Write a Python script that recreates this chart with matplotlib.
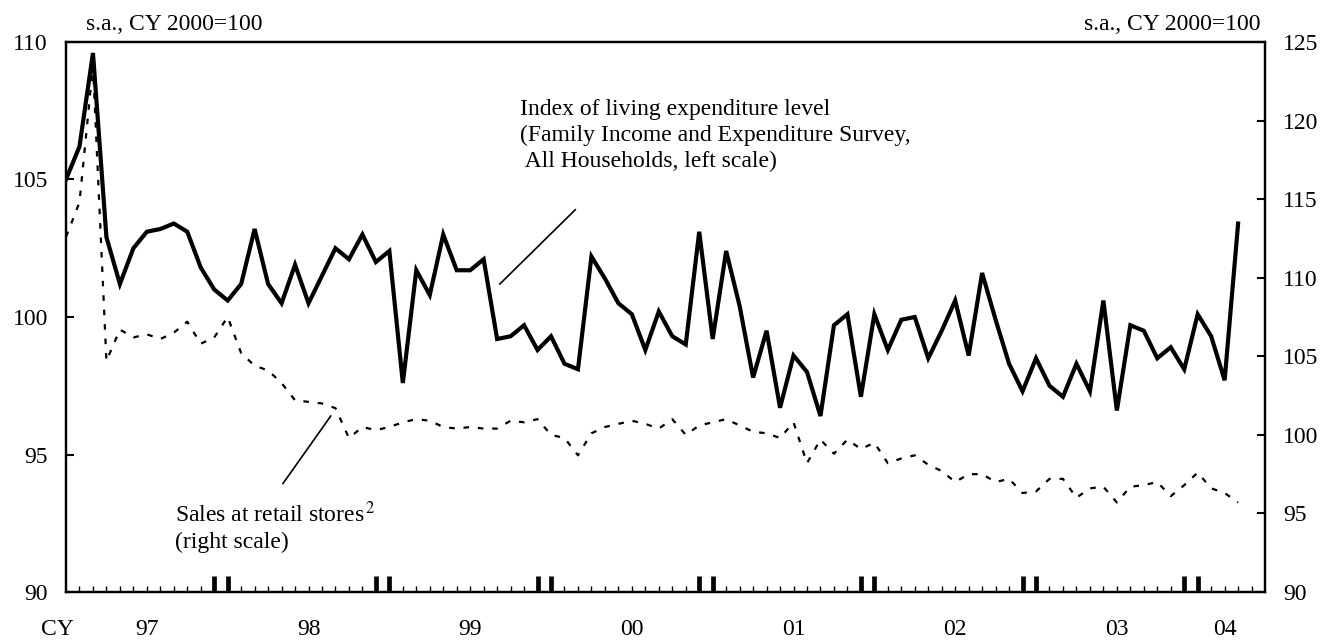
import numpy as np
import matplotlib.pyplot as plt
from matplotlib.transforms import blended_transform_factory

plt.rcParams['font.family'] = ['Liberation Serif', 'DejaVu Serif']
plt.rcParams['mathtext.fontset'] = 'stix'

# Index of living expenditure level (left scale), monthly Jan 1997 - Apr 2004
living = [105.0, 106.2, 109.6, 102.9, 101.2, 102.5, 103.1, 103.2, 103.4, 103.1, 101.8, 101.0,
          100.6, 101.2, 103.2, 101.2, 100.5, 101.9, 100.5, 101.5, 102.5, 102.1, 103.0, 102.0,
          102.4, 97.6, 101.7, 100.8, 103.0, 101.7, 101.7, 102.1, 99.2, 99.3, 99.7, 98.8,
          99.3, 98.3, 98.1, 102.2, 101.4, 100.5, 100.1, 98.8, 100.2, 99.3, 99.0, 103.1,
          99.2, 102.4, 100.4, 97.8, 99.5, 96.7, 98.6, 98.0, 96.4, 99.7, 100.1, 97.1,
          100.1, 98.8, 99.9, 100.0, 98.5, 99.5, 100.6, 98.6, 101.6, 99.9, 98.3, 97.3,
          98.5, 97.5, 97.1, 98.3, 97.3, 100.6, 96.6, 99.7, 99.5, 98.5, 98.9, 98.1,
          100.1, 99.3, 97.7, 103.4]

# Sales at retail stores (right scale)
retail = [112.6, 114.8, 123.5, 104.7, 106.7, 106.2, 106.4, 106.1, 106.5, 107.2, 105.8, 106.2,
          107.5, 105.2, 104.4, 104.1, 103.3, 102.2, 102.1, 102.0, 101.7, 99.8, 100.5, 100.3,
          100.5, 100.8, 101.0, 100.9, 100.5, 100.4, 100.5, 100.4, 100.4, 100.9, 100.8, 101.0,
          100.0, 99.8, 98.7, 100.1, 100.5, 100.7, 100.9, 100.7, 100.4, 101.0, 100.0, 100.6,
          100.8, 101.0, 100.6, 100.2, 100.1, 99.8, 100.8, 98.2, 99.7, 98.8, 99.7, 99.1,
          99.5, 98.2, 98.5, 98.7, 98.1, 97.7, 97.0, 97.5, 97.5, 97.0, 97.2, 96.3,
          96.4, 97.2, 97.2, 96.0, 96.6, 96.7, 95.7, 96.7, 96.8, 97.0, 96.1, 96.8,
          97.6, 96.6, 96.3, 95.7]

years = ['97', '98', '99', '00', '01', '02', '03', '04']
year_pos = [6, 18, 30, 42, 54, 66, 78, 86]

months = np.arange(len(living))

fig = plt.figure(figsize=(13.23, 6.41), dpi=100)
ax = fig.add_axes([0.0499, 0.0764, 0.9063, 0.8581])
ax2 = ax.twinx()
ax.set_zorder(ax2.get_zorder() + 1)
ax.patch.set_visible(False)

ax.plot(months, living, color='black', lw=3.0, solid_joinstyle='miter')
ax2.plot(months, retail, color='black', lw=1.6, linestyle=(0, (2.5, 4)))

ax.set_xlim(0, 89)
ax.set_ylim(90, 110)
ax2.set_ylim(90, 125)
ax.set_yticks([90, 95, 100, 105, 110])
ax2.set_yticks([90, 95, 100, 105, 110, 115, 120, 125])

# month ticks, with heavy marks at each turn of the year
bounds = [b for y in range(1, 8) for b in (12 * y - 1, 12 * y)]
ax.set_xticks(bounds)
ax.set_xticks([m for m in range(1, 89) if m not in bounds], minor=True)
ax.tick_params(axis='x', which='major', direction='in', length=11.5, width=3.4, labelbottom=False)
ax.tick_params(axis='x', which='minor', direction='in', length=4.3, width=1.0)
ax.tick_params(axis='y', direction='in', length=6, width=1.5, labelsize=17, pad=13)
ax2.tick_params(axis='y', direction='in', length=6, width=1.5, labelsize=17, pad=13)

for a in (ax, ax2):
    for s in a.spines.values():
        s.set_linewidth(1.6)

tr = blended_transform_factory(ax.transData, ax.transAxes)
for p, lbl in zip(year_pos, years):
    ax.text(p, -0.068, lbl, transform=tr, ha='center', va='center', fontsize=17)
ax.text(-0.6, -0.068, 'CY', transform=tr, ha='center', va='center', fontsize=17, clip_on=False)

ax.text(0.0167, 1.031, 's.a., CY 2000=100', transform=ax.transAxes, ha='left', va='center', fontsize=17)
ax.text(0.996, 1.031, 's.a., CY 2000=100', transform=ax.transAxes, ha='right', va='center', fontsize=17)

# annotations
ax.text(33.7, 106.6, 'Index of living expenditure level\n(Family Income and Expenditure Survey,\n All Households, left scale)',
        ha='left', va='center', fontsize=17, linespacing=1.3)
ax.plot([32.2, 37.8], [101.2, 103.9], color='black', lw=1.2)

ax.text(8.1, 92.35, 'Sales at retail stores$^{\\,2}$\n(right scale)', ha='left', va='center', fontsize=17, linespacing=1.3)
ax2.plot([16.1, 19.65], [96.9, 101.2], color='black', lw=1.2)

plt.savefig('out.png', dpi=100)
